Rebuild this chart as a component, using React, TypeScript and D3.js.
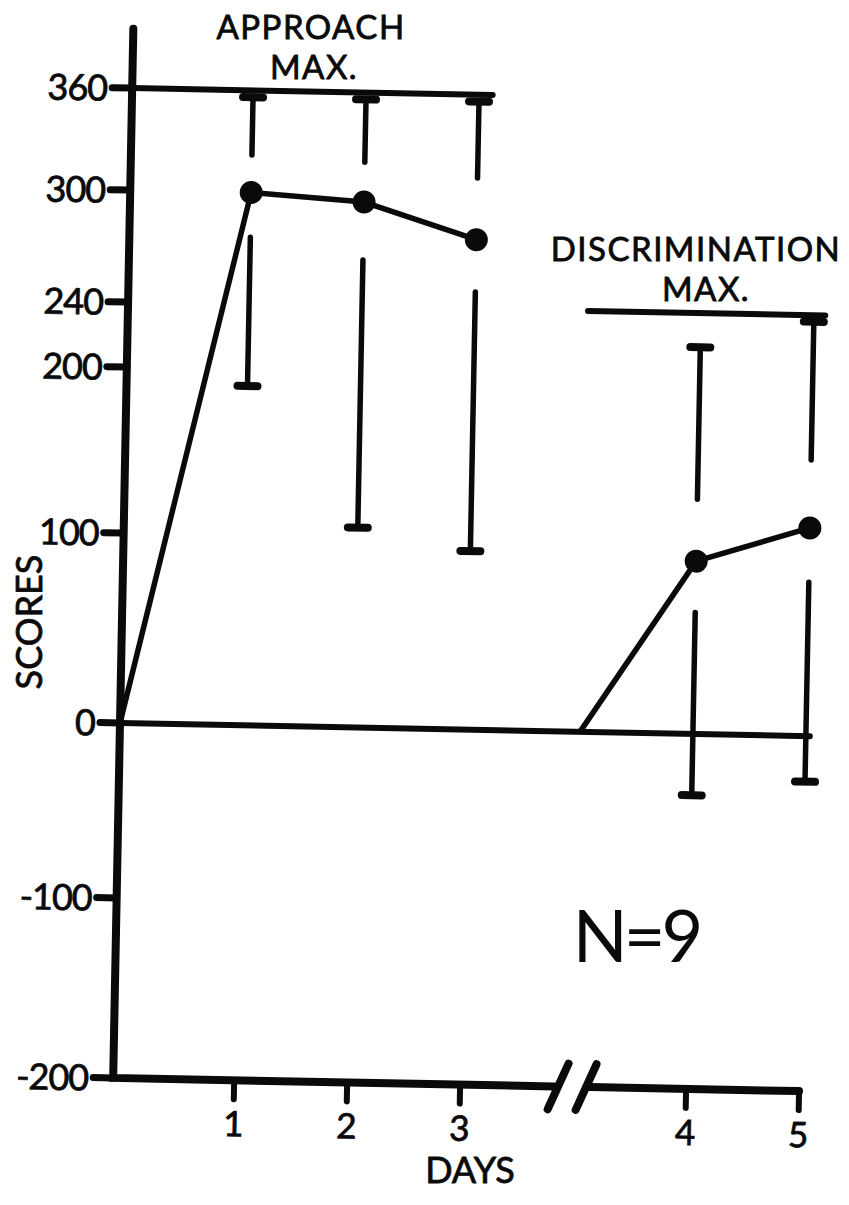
import React from "react";
import * as d3 from "d3";

// ---------- data ----------
const dayLabels = ["1", "2", "3", "4", "5"];
const daySlots = [1, 2, 3, 5, 6]; // slot positions on the broken day axis
const breakSlot = 4;

const approachSlots = [0, 1, 2, 3];
const approachScores = [0, 300, 296, 277];
const discrimSlots = [4, 5, 6];
const discrimScores = [0, 91, 111];

// error bars per day (drawn with a gap around the mean)
const barTop = [356, 356, 356, 219, 236];
const barTopInner = [322, 319, 311, 127, 152];
const barBottomInner = [276, 265, 249, 64, 81];
const barBottom = [190, 106, 94, -35, -26];
const meanScores = [300, 296, 277, 91, 111];

const yTicks = [360, 300, 240, 200, 100, 0, -100, -200];
const approachMax = 360;
const approachMaxSpan = [0, 3.12];
const discrimMax = 240;
const discrimMaxSpan = [4.0, 6.1];

// ---------- layout ----------
const W = 849;
const H = 1205;
const ox = 120;
const oy = 723;
const tilt = 1.1;
const ink = "#0a0a0a";
const font = "Lato, 'Noto Sans', 'DejaVu Sans', sans-serif";

export default function App() {
  // hand-drawn (irregular) scale of the original figure
  const y = d3
    .scaleLinear()
    .domain(yTicks)
    .range([88, 190, 302, 367, 533, 723, 898, 1078]);
  const x = d3.scaleLinear().domain([0, 1, 6]).range([ox, 241, 806]);

  const line = d3
    .line<[number, number]>()
    .x((d) => x(d[0]))
    .y((d) => y(d[1]));

  const approachPts: [number, number][] = approachSlots.map((s, i) => [s, approachScores[i]]);
  const discrimPts: [number, number][] = discrimSlots.map((s, i) => [s, discrimScores[i]]);

  const yBottom = y(-200);
  const yTop = y(395);
  const bx = x(breakSlot);
  const b1 = bx - 15;
  const b2 = bx + 13;
  const capHalf = 10;
  const textStroke = { stroke: ink, strokeWidth: 0.8 };

  return (
    <svg
      width={W}
      height={H}
      viewBox={`0 0 ${W} ${H}`}
      style={{ position: "absolute", left: 0, top: 0, background: "#fff" }}
    >
      <rect x={0} y={0} width={W} height={H} fill="#fff" />
      <g transform={`rotate(${tilt}, ${ox}, ${oy})`}>
        {/* axes */}
        <path
          d={`M${x(0)},${yTop} L${x(0)},${yBottom} L${b1 - 4},${yBottom}`}
          fill="none"
          stroke={ink}
          strokeWidth={8}
          strokeLinejoin="miter"
          strokeLinecap="round"
        />
        <line x1={b2 + 4} x2={x(6)} y1={yBottom} y2={yBottom} stroke={ink} strokeWidth={8} strokeLinecap="round" />
        {[b1, b2].map((cx, i) => (
          <line
            key={"brk" + i}
            x1={cx - 10}
            y1={yBottom + 23}
            x2={cx + 10}
            y2={yBottom - 23}
            stroke={ink}
            strokeWidth={8}
            strokeLinecap="round"
          />
        ))}
        {/* y ticks */}
        {yTicks.map((t) => (
          <g key={"yt" + t}>
            <line x1={100} x2={x(0)} y1={y(t)} y2={y(t)} stroke={ink} strokeWidth={7} strokeLinecap="round" />
            <text
              x={95}
              y={y(t)}
              dy="0.36em"
              textAnchor="end"
              fontFamily={font}
              fontSize={36}
              fill={ink}
              letterSpacing={-1}
              {...textStroke}
            >
              {t < 0 ? "-" + Math.abs(t) : String(t)}
            </text>
          </g>
        ))}
        {/* x ticks */}
        {daySlots.map((s, i) => (
          <g key={"xt" + i}>
            <line x1={x(s)} x2={x(s)} y1={yBottom} y2={yBottom + 19} stroke={ink} strokeWidth={6} strokeLinecap="round" />
            <text x={x(s)} y={yBottom + 56} textAnchor="middle" fontFamily={font} fontSize={35} fill={ink} {...textStroke}>
              {dayLabels[i]}
            </text>
          </g>
        ))}
        {/* zero line */}
        <line x1={x(0)} x2={x(6) + 4} y1={y(0)} y2={y(0)} stroke={ink} strokeWidth={6} strokeLinecap="round" />
        {/* max lines */}
        <line
          x1={x(approachMaxSpan[0])}
          x2={x(approachMaxSpan[1])}
          y1={y(approachMax)}
          y2={y(approachMax)}
          stroke={ink}
          strokeWidth={6}
          strokeLinecap="round"
        />
        <line
          x1={x(discrimMaxSpan[0])}
          x2={x(discrimMaxSpan[1])}
          y1={y(discrimMax)}
          y2={y(discrimMax)}
          stroke={ink}
          strokeWidth={6}
          strokeLinecap="round"
        />
        {/* error bars */}
        {daySlots.map((s, i) => (
          <g key={"eb" + i} stroke={ink} strokeLinecap="round">
            <line x1={x(s)} x2={x(s)} y1={y(barTop[i])} y2={y(barTopInner[i])} strokeWidth={5.5} />
            <line x1={x(s)} x2={x(s)} y1={y(barBottomInner[i])} y2={y(barBottom[i])} strokeWidth={5.5} />
            <line x1={x(s) - capHalf} x2={x(s) + capHalf} y1={y(barTop[i])} y2={y(barTop[i])} strokeWidth={8} />
            <line x1={x(s) - capHalf} x2={x(s) + capHalf} y1={y(barBottom[i])} y2={y(barBottom[i])} strokeWidth={8} />
          </g>
        ))}
        {/* data lines */}
        <path d={line(approachPts) || ""} fill="none" stroke={ink} strokeWidth={5.5} strokeLinejoin="round" />
        <path d={line(discrimPts) || ""} fill="none" stroke={ink} strokeWidth={5.5} strokeLinejoin="round" />
        {daySlots.map((s, i) => (
          <circle key={"m" + i} cx={x(s)} cy={y(meanScores[i])} r={11.5} fill={ink} />
        ))}
      </g>
      {/* annotations */}
      <g fontFamily={font} fill={ink} textAnchor="middle" fontSize={36}>
        <text x={311} y={39} fontSize={33} letterSpacing={1.5} {...textStroke}>
          APPROACH
          <tspan x={314} dy={40}>MAX.</tspan>
        </text>
        <text x={696} y={261} fontSize={33} letterSpacing={1.5} {...textStroke}>
          DISCRIMINATION
          <tspan x={706} dy={40}>MAX.</tspan>
        </text>
        <text x={470} y={1183} {...textStroke}>DAYS</text>
        <text transform="translate(42,622) rotate(-90)" {...textStroke}>SCORES</text>
        <text x={636} y={962} fontSize={72} letterSpacing={-4}>N=9</text>
      </g>
    </svg>
  );
}
